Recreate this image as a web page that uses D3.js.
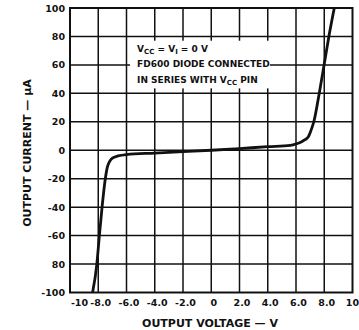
<!DOCTYPE html>
<html><head><meta charset="utf-8">
<script src="https://cdn.jsdelivr.net/npm/d3@7"></script>
<style>
html,body{margin:0;padding:0;background:#fff;}
svg{display:block;}
text{font-family:"DejaVu Sans",sans-serif;font-weight:bold;fill:#111;}
</style></head>
<body><svg id="c" width="359" height="330"></svg>
<script>
const xTicks = [-10,-8,-6,-4,-2,0,2,4,6,8,10];
const xTickLabels = ["-10","-8.0","-6.0","-4.0","-2.0","0","2.0","4.0","6.0","8.0","10"];
const yTicks = [-100,-80,-60,-40,-20,0,20,40,60,80,100];
const yTickLabels = ["-100","80","-60","-40","-20","0","20","40","60","80","100"];
const voltage = [-8.4,-8.1,-7.92,-7.73,-7.5,-7.36,-7.2,-7.0,-6.6,-6.0,-4.0,-2.0,0,2.0,4.0,5.6,6.05,6.4,6.64,6.85,6.97,7.1,7.27,7.65,8.0,8.34,8.71];
const current = [-100,-80,-60,-40,-20,-12,-8,-5.5,-4,-3,-2,-1,0,1.2,2.5,3.4,4.6,6,7.4,9.2,11.5,15,20.4,40.3,60.6,80.6,100];

const svg = d3.select("#c");
const L=70, R=352.5, T=8, B=292.5;
const x = d3.scaleLinear().domain([-10,10]).range([L,R]);
const y = d3.scaleLinear().domain([-100,100]).range([B,T]);

// grid
const g = svg.append("g");
g.selectAll("line.v").data(xTicks.slice(1,-1)).enter().append("line")
  .attr("x1",d=>x(d)).attr("x2",d=>x(d)).attr("y1",T).attr("y2",B)
  .attr("stroke","#111").attr("stroke-width",1.5);
g.selectAll("line.h").data(yTicks.slice(1,-1)).enter().append("line")
  .attr("y1",d=>y(d)).attr("y2",d=>y(d)).attr("x1",L).attr("x2",R)
  .attr("stroke","#111").attr("stroke-width",1.5);

// annotation box (white background)
svg.append("rect").attr("x",x(-5.75)).attr("y",y(77)).attr("width",x(4.15)-x(-5.75)).attr("height",y(43.5)-y(77))
  .attr("fill","#fff");
const ann = svg.append("g").attr("font-size","9px");
const t1 = ann.append("text").attr("x",x(-5.25)).attr("y",y(69));
t1.append("tspan").text("V");
t1.append("tspan").attr("font-size","7px").attr("dy",2).text("CC");
t1.append("tspan").attr("dy",-2).text(" = V");
t1.append("tspan").attr("font-size","7px").attr("dy",2).text("I");
t1.append("tspan").attr("dy",-2).text(" = 0 V");
ann.append("text").attr("x",x(-5.25)).attr("y",y(58.5)).text("FD600 DIODE CONNECTED");
const t3 = ann.append("text").attr("x",x(-5.25)).attr("y",y(47.5));
t3.append("tspan").text("IN SERIES WITH V");
t3.append("tspan").attr("font-size","7px").attr("dy",2).text("CC");
t3.append("tspan").attr("dy",-2).text(" PIN");

// frame
svg.append("rect").attr("x",L).attr("y",T).attr("width",R-L).attr("height",B-T)
  .attr("fill","none").attr("stroke","#111").attr("stroke-width",2);

// curve
const pts = voltage.map((v,i)=>[v,current[i]]);
svg.append("path").datum(pts)
  .attr("d",d3.line().x(d=>x(d[0])).y(d=>y(d[1])).curve(d3.curveMonotoneX))
  .attr("fill","none").attr("stroke","#111").attr("stroke-width",2.8).attr("stroke-linejoin","round");

// axes
const xa = svg.append("g").attr("transform",`translate(0,${B})`)
  .call(d3.axisBottom(x).tickValues(xTicks).tickFormat((d,i)=>xTickLabels[i]).tickSize(0).tickPadding(7));
xa.select(".domain").remove();
xa.selectAll("text").attr("font-size","9.5px").attr("font-family","DejaVu Sans").attr("font-weight","bold").attr("fill","#111")
  .attr("text-anchor",(d,i)=>i===xTicks.length-1?"end":"middle")
  .attr("dx",(d,i)=>i===0?9:(i===xTicks.length-1?6:2));
const ya = svg.append("g").attr("transform",`translate(${L},0)`)
  .call(d3.axisLeft(y).tickValues(yTicks).tickFormat((d,i)=>yTickLabels[i]).tickSize(0).tickPadding(5));
ya.select(".domain").remove();
ya.selectAll("text").attr("font-size","9.5px").attr("font-family","DejaVu Sans").attr("font-weight","bold").attr("fill","#111");

svg.append("text").attr("x",210).attr("y",327).attr("text-anchor","middle").attr("font-size","11px")
  .text("OUTPUT VOLTAGE — V");
svg.append("text").attr("transform",`translate(31,153) rotate(-90)`).attr("text-anchor","middle").attr("font-size","11px")
  .text("OUTPUT CURRENT — μA");
</script></body></html>
